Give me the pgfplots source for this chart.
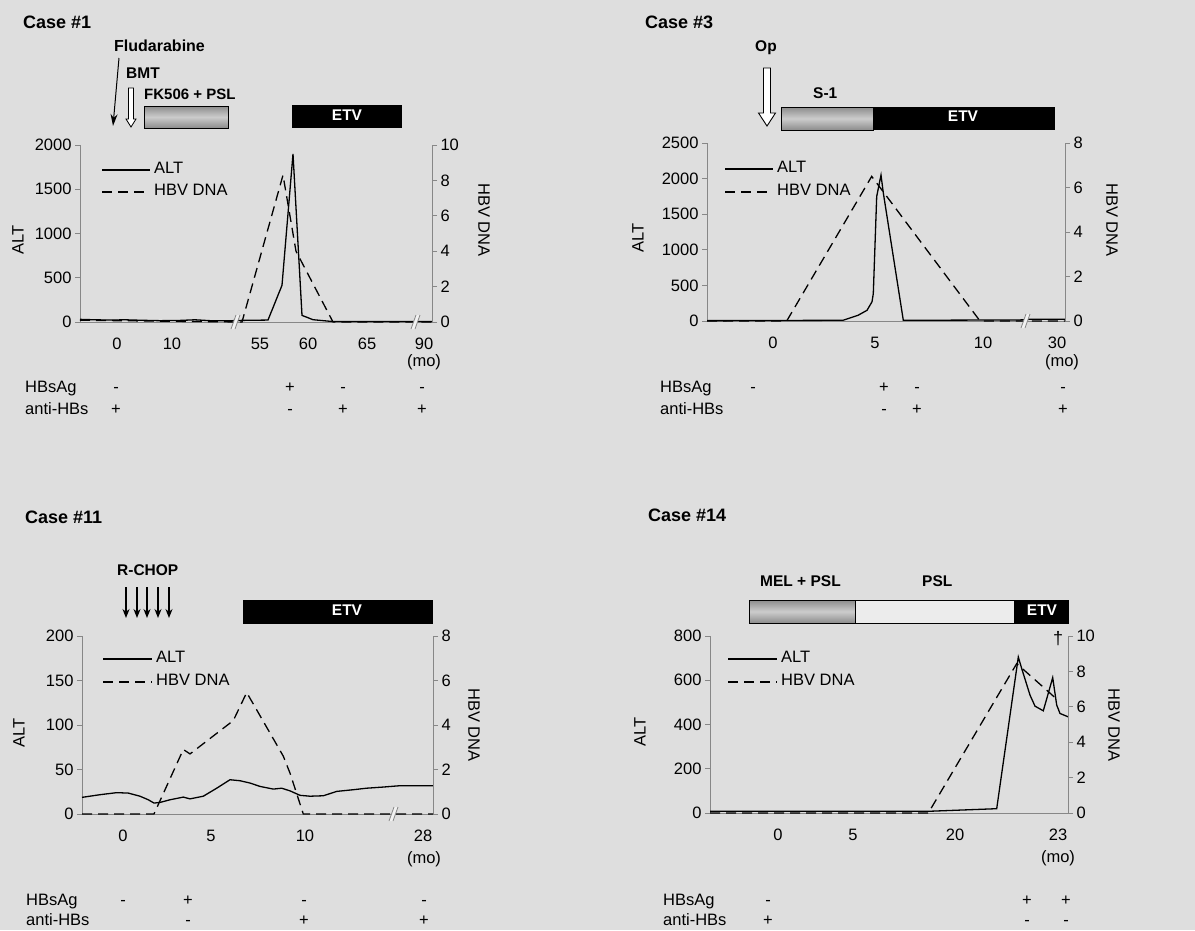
\documentclass[border=0pt]{standalone}
\usepackage{fontspec}
\setmainfont{Liberation Sans}
\usepackage{pgfplots}
\pgfplotsset{compat=1.18}
\usetikzlibrary{arrows.meta}
\definecolor{bg}{RGB}{222,222,222}
\definecolor{axgray}{RGB}{135,135,135}
\newcommand\fn{\fontsize{16.5}{19}\selectfont}
\newcommand\fb{\fontsize{15.5}{18}\selectfont\bfseries}
\newcommand\fc{\fontsize{18}{21}\selectfont\bfseries}
\tikzset{alt/.style={black, line width=1.3pt},
  hbv/.style={black, line width=1.3pt, dash pattern=on 10pt off 6pt},
  t/.style={inner sep=0pt, text height=0.716em, text depth=0pt, font=\fn},
  tb/.style={inner sep=0pt, text height=0.716em, text depth=0pt, font=\fb},
  tc/.style={inner sep=0pt, text height=0.716em, text depth=0pt, font=\fc}}
\pgfplotsset{
  common/.style={scale only axis, clip=false, tick align=outside, major tick length=5pt,
    tick label style={font=\fn}, /pgf/number format/assume math mode=true,
    /pgf/number format/1000 sep={}, scaled y ticks=false,
    ytick style={axgray, line width=0.8pt}},
  panel/.style={common, axis y line*=left, axis x line*=bottom,
    y axis line style={axgray, line width=0.8pt}, x axis line style={axgray, line width=0.8pt},
    xtick style={draw=none}, x tick label style={yshift=-7pt, text height=11.8pt, text depth=0pt}},
  panelr/.style={common, axis y line*=right, axis x line=none,
    y axis line style={axgray, line width=0.8pt}},
}
\newcommand\brk[2]{%
  \fill[white!60!bg] ({#1-4},{#2+7}) -- ({#1+1},{#2-7}) -- ({#1+5},{#2-7}) -- ({#1},{#2+7}) -- cycle;
  \draw[axgray, line width=0.8pt] ({#1-4},{#2+7}) -- ({#1+1},{#2-7}) ({#1},{#2+7}) -- ({#1+5},{#2-7});}
\begin{document}
\begin{tikzpicture}
\path[use as bounding box, fill=bg] (0,0) rectangle (1195pt,-930pt);

% ================= Case #1 =================
\begin{axis}[panel, at={(80pt,-322pt)}, anchor=south west, width=352pt, height=177pt,
  xmin=80, xmax=432, ymin=0, ymax=2000, ytick={0,500,1000,1500,2000},
  xtick={117,172,260,308,367,424}, xticklabels={0,10,55,60,65,90}]
\addplot[alt] coordinates {(80,30) (95,25) (110,22) (125,25) (140,20) (160,15) (180,18) (195,25) (210,15) (232,15) (240,18) (268,22) (282,415) (293,1900) (302,75) (313,26) (333,5) (432,5)};
\end{axis}
\begin{axis}[panelr, at={(80pt,-322pt)}, anchor=south west, width=352pt, height=177pt,
  xmin=80, xmax=432, ymin=0, ymax=10, ytick={0,2,4,6,8,10}]
\addplot[hbv] coordinates {(80,0.1) (242,0) (283,8.3) (296,4.0) (333,0) (432,0)};
\end{axis}

% ================= Case #3 =================
\begin{axis}[panel, at={(707pt,-321pt)}, anchor=south west, width=358pt, height=178pt,
  xmin=707, xmax=1065, ymin=0, ymax=2500, ytick={0,500,1000,1500,2000,2500},
  xtick={773,875,983,1057}, xticklabels={0,5,10,30}]
\addplot[alt] coordinates {(707,5) (843,10) (858,80) (867,150) (872,270) (873.3,385) (876.7,1750) (881,2050) (883.3,1800) (903.3,10) (1020,15) (1030,25) (1065,25)};
\end{axis}
\begin{axis}[panelr, at={(707pt,-321pt)}, anchor=south west, width=358pt, height=178pt,
  xmin=707, xmax=1065, ymin=0, ymax=8, ytick={0,2,4,6,8}]
\addplot[hbv] coordinates {(707,0) (786.7,0) (871.7,6.5) (881.7,5.9) (980,0) (1065,0)};
\end{axis}

% ================= Case #11 =================
\begin{axis}[panel, at={(82pt,-814pt)}, anchor=south west, width=351pt, height=178pt,
  xmin=82, xmax=433, ymin=0, ymax=200, ytick={0,50,100,150,200},
  xtick={123,211,305,423}, xticklabels={0,5,10,28}]
\addplot[alt] coordinates {(82,18.7) (100,21.7) (116.7,24) (128.3,23.5) (140,20) (148.3,16) (154,12.3) (160,13) (170,16) (183.3,19) (190,17) (203.3,20) (216.7,29) (230,38.5) (240,37.4) (250,34.8) (260,31) (273.3,28) (281.7,29) (290,26) (300,21) (310,20) (323.3,20.5) (336.7,25.4) (353.3,27.3) (366.7,29) (383.3,30.3) (400,31.8) (433,31.8)};
\end{axis}
\begin{axis}[panelr, at={(82pt,-814pt)}, anchor=south west, width=351pt, height=178pt,
  xmin=82, xmax=433, ymin=0, ymax=8, ytick={0,2,4,6,8}]
\addplot[hbv] coordinates {(82,0) (154,0) (183.3,2.9) (190,2.7) (233.3,4.2) (246.7,5.46) (283.3,2.6) (290,1.84) (303.3,0) (433,0)};
\end{axis}

% ================= Case #14 =================
\begin{axis}[panel, at={(710pt,-813pt)}, anchor=south west, width=358pt, height=177pt,
  xmin=710, xmax=1068, ymin=0, ymax=800, ytick={0,200,400,600,800},
  xtick={778,853,955,1058}, xticklabels={0,5,20,23}]
\addplot[alt] coordinates {(710,8) (930,8) (996.7,19.5) (1018.3,705) (1021.7,653) (1030,533) (1035,483) (1043.3,462) (1052.7,612) (1056.7,488) (1060,450) (1068,435)};
\end{axis}
\begin{axis}[panelr, at={(710pt,-813pt)}, anchor=south west, width=358pt, height=177pt,
  xmin=710, xmax=1068, ymin=0, ymax=10, ytick={0,2,4,6,8,10}]
\addplot[hbv] coordinates {(710,0) (928.3,0) (1016.7,8.44) (1046.7,6.94) (1057.3,6.4)};
\end{axis}

% ================= annotations (pixel coords, y down) =================
\begin{scope}[x=1pt, y=-1pt]
% --- Case 1 ---
\node[tc, anchor=west] at (23,25) {Case \#1};
\node[tb, anchor=west, font=\fontsize{16}{18}\selectfont\bfseries] at (114,48) {Fludarabine};
\draw[line width=1pt, -{Stealth[length=12pt,width=7pt]}] (119,58) -- (113,126);
\node[tb, anchor=west] at (126,75) {BMT};
\draw[fill=white, line width=0.8pt] (128.5,88) -- (133.5,88) -- (133.5,119) -- (136,119) -- (131,127) -- (126,119) -- (128.5,119) -- cycle;
\node[tb, anchor=west, font=\fontsize{15}{18}\selectfont\bfseries] at (144,96) {FK506 + PSL};
\shade[top color=gray!90, bottom color=gray!90, middle color=gray!40] (144,106) rectangle (228,128);
\draw[line width=0.8pt] (144,106) rectangle (228,128);
\fill[black] (292,105) rectangle (402,128);
\node[tb, white] at (347,117) {ETV};
\node[t, rotate=90] at (20,240) {ALT};
\node[t, rotate=-90] at (482,220) {HBV DNA};
\draw[alt] (102,170) -- (150,170); \node[t, anchor=west] at (154,170) {ALT};
\draw[hbv] (102,192) -- (150,192); \node[t, anchor=west] at (154,192) {HBV DNA};
\node[t] at (424,363) {(mo)};
\brk{235}{322} \brk{415}{322}
\node[t, anchor=west] at (25,389) {HBsAg};
\node[t, anchor=west] at (25,411) {anti-HBs};
\foreach \x/\s in {116/-, 290/+, 343/-, 422/-} \node[t] at (\x,389) {\s};
\foreach \x/\s in {116/+, 290/-, 343/+, 422/+} \node[t] at (\x,411) {\s};

% --- Case 3 ---
\node[tc, anchor=west] at (645,25) {Case \#3};
\node[tb] at (766,48) {Op};
\draw[fill=white, line width=0.9pt] (763.5,68) -- (770.5,68) -- (770.5,113) -- (775.5,113) -- (767,126) -- (758.5,113) -- (763.5,113) -- cycle;
\node[tb, anchor=west] at (813,95) {S-1};
\shade[top color=gray!90, bottom color=gray!90, middle color=gray!40] (781,107) rectangle (873,130);
\draw[line width=0.8pt] (781,107) rectangle (873,130);
\fill[black] (873,107) rectangle (1055,130);
\node[tb, white] at (963,118) {ETV};
\node[t, rotate=90] at (640,238) {ALT};
\node[t, rotate=-90] at (1110,220) {HBV DNA};
\draw[alt] (725,169) -- (773,169); \node[t, anchor=west] at (777,169) {ALT};
\draw[hbv] (725,192) -- (773,192); \node[t, anchor=west] at (777,192) {HBV DNA};
\node[t] at (1062,363) {(mo)};
\brk{1025}{321}
\node[t, anchor=west] at (660,389) {HBsAg};
\node[t, anchor=west] at (660,411) {anti-HBs};
\foreach \x/\s in {753/-, 884/+, 917/-, 1063/-} \node[t] at (\x,389) {\s};
\foreach \x/\s in {884/-, 917/+, 1063/+} \node[t] at (\x,411) {\s};

% --- Case 11 ---
\node[tc, anchor=west] at (25,520) {Case \#11};
\node[tb, anchor=west] at (117,572) {R-CHOP};
\foreach \x in {126,137,147,158,169} \draw[line width=1.3pt, -{Stealth[length=9pt,width=7pt]}] (\x,587) -- (\x,618);
\fill[black] (243,600) rectangle (433,624);
\node[tb, white] at (347,612) {ETV};
\node[t, rotate=90] at (21,733) {ALT};
\node[t, rotate=-90] at (472,725) {HBV DNA};
\draw[alt] (103,659) -- (152,659); \node[t, anchor=west] at (156,659) {ALT};
\draw[hbv] (103,682) -- (152,682); \node[t, anchor=west] at (156,682) {HBV DNA};
\node[t] at (424,860) {(mo)};
\brk{393}{814}
\node[t, anchor=west] at (26,902) {HBsAg};
\node[t, anchor=west] at (26,922) {anti-HBs};
\foreach \x/\s in {123/-, 188/+, 304/-, 424/-} \node[t] at (\x,902) {\s};
\foreach \x/\s in {188/-, 304/+, 424/+} \node[t] at (\x,922) {\s};

% --- Case 14 ---
\node[tc, anchor=west] at (648,518) {Case \#14};
\node[tb, anchor=west] at (760,583) {MEL + PSL};
\node[tb, anchor=west] at (922,583) {PSL};
\shade[top color=gray!90, bottom color=gray!90, middle color=gray!40] (749,600) rectangle (855,623);
\fill[white!85!gray] (855,600) rectangle (1014,623);
\fill[black] (1014,600) rectangle (1068,623);
\draw[line width=0.8pt] (749,600) rectangle (1068,623) (855,600) -- (855,623);
\node[tb, white] at (1042,612) {ETV};
\node[tc, font=\fontsize{18}{21}\selectfont] at (1058,641) {†};
\node[t, rotate=90] at (642,732) {ALT};
\node[t, rotate=-90] at (1112,725) {HBV DNA};
\draw[alt] (728,659) -- (777,659); \node[t, anchor=west] at (781,659) {ALT};
\draw[hbv] (728,682) -- (777,682); \node[t, anchor=west] at (781,682) {HBV DNA};
\node[t] at (1058,859) {(mo)};
\node[t, anchor=west] at (663,902) {HBsAg};
\node[t, anchor=west] at (663,922) {anti-HBs};
\foreach \x/\s in {768/-, 1027/+, 1066/+} \node[t] at (\x,902) {\s};
\foreach \x/\s in {768/+, 1027/-, 1066/-} \node[t] at (\x,922) {\s};
\end{scope}
\end{tikzpicture}
\end{document}
